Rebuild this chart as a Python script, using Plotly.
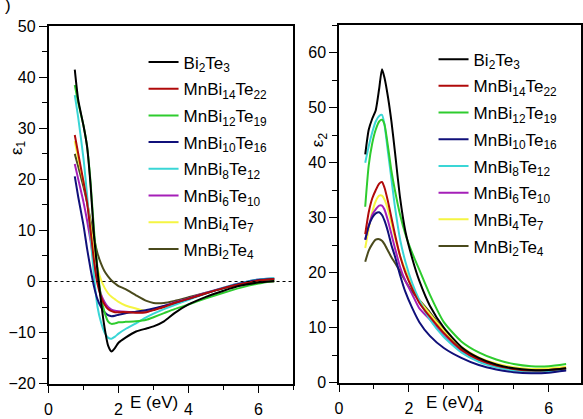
import plotly.graph_objects as go

# ---------------- data ----------------
series_names = ["Bi<sub>2</sub>Te<sub>3</sub>", "MnBi<sub>14</sub>Te<sub>22</sub>",
                "MnBi<sub>12</sub>Te<sub>19</sub>", "MnBi<sub>10</sub>Te<sub>16</sub>",
                "MnBi<sub>8</sub>Te<sub>12</sub>", "MnBi<sub>6</sub>Te<sub>10</sub>",
                "MnBi<sub>4</sub>Te<sub>7</sub>", "MnBi<sub>2</sub>Te<sub>4</sub>"]
series_colors = ["#000000", "#b00a0a", "#2ecc2e", "#10107a",
                 "#3ad6d6", "#a51fb8", "#f5f542", "#4a4a1c"]

energy_eps1 = [0.75, 0.85, 1.0, 1.1, 1.2, 1.3, 1.4, 1.5, 1.6, 1.7, 1.8, 1.9, 2.0,
               2.2, 2.5, 2.8, 3.0, 3.3, 3.6, 4.0, 4.5, 5.0, 5.5, 6.0, 6.45]
eps1_Bi2Te3 = [41.5, 35.5, 30.5, 26.5, 19, 9, 2, -4, -9, -12.5, -13.7, -13, -12,
               -11, -9.8, -9.2, -8.8, -7.8, -6.2, -4.5, -3, -1.8, -0.8, -0.2, 0.1]
eps1_MnBi14Te22 = [28.7, 25, 19.5, 15.5, 10, 4, -0.5, -3, -4.5, -5.4, -5.8, -6, -6,
                   -6, -6.1, -6, -5.6, -5, -4.2, -3.4, -2.3, -1.3, -0.5, 0.2, 0.5]
eps1_MnBi12Te19 = [38.5, 35, 30.5, 26.5, 19.5, 10, 2.5, -3, -6, -7.8, -8.3, -8.2, -8,
                   -7.9, -7.8, -7.5, -7, -6.2, -5.4, -4.5, -3.3, -2.2, -1.2, -0.4, 0.1]
eps1_MnBi10Te16 = [20.6, 16.5, 11, 6.5, 2.5, -1, -3.5, -5, -6, -6.6, -6.8, -6.7, -6.5,
                   -6.2, -5.9, -5.6, -5.3, -4.8, -4.2, -3.4, -2.3, -1.3, -0.4, 0.3, 0.5]
eps1_MnBi8Te12 = [36.5, 32, 24, 17, 9, 1, -5, -8, -10, -11, -11.2, -10.8, -10.2,
                  -9.3, -8.2, -7, -6.3, -5.4, -4.6, -3.6, -2.3, -1.2, -0.3, 0.4, 0.7]
eps1_MnBi6Te10 = [23, 20, 15.5, 12, 8, 3.5, 0, -2.5, -4, -5, -5.5, -5.7, -5.8,
                  -5.9, -6, -6, -5.5, -4.8, -4.1, -3.3, -2.2, -1.2, -0.3, 0.4, 0.6]
eps1_MnBi4Te7 = [27.5, 24, 19.5, 16, 11, 6, 2.5, 0.3, -1.2, -2.3, -3, -3.5, -4,
                 -4.7, -5.3, -5.8, -5.5, -4.9, -4.2, -3.4, -2.3, -1.3, -0.5, 0.2, 0.4]
eps1_MnBi2Te4 = [25, 22.5, 18.5, 15.5, 12, 8.5, 5.5, 3.5, 2, 1, 0.2, -0.4, -0.9,
                 -1.5, -2.7, -3.8, -4.2, -4.2, -3.8, -3.1, -2.2, -1.3, -0.6, -0.1, 0]

energy_eps2 = [0.75, 0.85, 0.95, 1.05, 1.15, 1.23, 1.3, 1.4, 1.5, 1.6, 1.75, 1.9,
               2.1, 2.3, 2.6, 3.0, 3.5, 4.0, 4.5, 5.0, 5.5, 6.0, 6.5]
eps2_Bi2Te3 = [41.5, 46, 48, 49.5, 53.5, 57, 55.5, 52, 47.5, 42, 33.5, 27.5,
               22.5, 18.5, 14, 10, 6.5, 4.5, 3.3, 2.6, 2.3, 2.3, 2.6]
eps2_MnBi14Te22 = [27, 31, 33.5, 35, 36.2, 36.5, 35.5, 33, 30, 27, 23, 20,
                   17, 14.5, 12, 9, 6, 4.2, 3.1, 2.5, 2.2, 2.3, 2.6]
eps2_MnBi12Te19 = [32, 39.5, 43.5, 46, 47.5, 47.8, 47, 43, 38.5, 35, 30.5, 27,
                   23.5, 20.5, 16, 11, 7.5, 5.5, 4.2, 3.4, 3.0, 3.0, 3.4]
eps2_MnBi10Te16 = [26, 28.5, 30, 30.8, 31, 30.5, 29.5, 27.5, 25, 23, 19.5, 16.5,
                   13.5, 11, 8.5, 6.3, 4.5, 3.2, 2.4, 1.9, 1.7, 1.8, 2.2]
eps2_MnBi8Te12 = [40, 43, 45.5, 47.5, 48.5, 48.7, 47, 42, 37, 32, 26, 22,
                  18, 15, 11.5, 8.3, 5.5, 3.8, 2.8, 2.2, 2.0, 2.1, 2.4]
eps2_MnBi6Te10 = [26, 28.5, 30.5, 31.5, 32.2, 32.2, 31.5, 29.5, 27, 24.5, 21, 18.5,
                  16, 13.5, 11.5, 8.5, 5.7, 4.0, 3.0, 2.3, 2.0, 2.0, 2.3]
eps2_MnBi4Te7 = [24.5, 28, 31, 33, 34, 34, 33.3, 31.5, 29, 26.5, 23, 20.5,
                 17.5, 15, 12.5, 9.5, 6.5, 4.6, 3.5, 2.8, 2.5, 2.6, 2.9]
eps2_MnBi2Te4 = [22, 24, 25.2, 26, 26.1, 25.8, 25.2, 24, 22.8, 21.8, 20.2, 18.5,
                 16.5, 15, 12.8, 9.5, 6.3, 4.4, 3.2, 2.5, 2.2, 2.3, 2.6]

eps1_all = [eps1_Bi2Te3, eps1_MnBi14Te22, eps1_MnBi12Te19, eps1_MnBi10Te16,
            eps1_MnBi8Te12, eps1_MnBi6Te10, eps1_MnBi4Te7, eps1_MnBi2Te4]
eps2_all = [eps2_Bi2Te3, eps2_MnBi14Te22, eps2_MnBi12Te19, eps2_MnBi10Te16,
            eps2_MnBi8Te12, eps2_MnBi6Te10, eps2_MnBi4Te7, eps2_MnBi2Te4]

# ---------------- figure ----------------
FONT = "Liberation Sans, Arial, sans-serif"
W, H = 583, 419
fig = go.Figure()

order = list(range(len(series_names)))
for i in reversed(order):
    fig.add_trace(go.Scatter(x=energy_eps1, y=eps1_all[i], mode="lines",
                             line=dict(color=series_colors[i], width=2, shape="spline", smoothing=0.6),
                             name=series_names[i], legend="legend", legendrank=i,
                             legendgroup="a%d" % i,
                             xaxis="x", yaxis="y"))
for i in reversed(order):
    fig.add_trace(go.Scatter(x=energy_eps2, y=eps2_all[i], mode="lines",
                             line=dict(color=series_colors[i], width=2, shape="spline", smoothing=0.6),
                             name=series_names[i], legend="legend2", legendrank=i,
                             legendgroup="b%d" % i,
                             xaxis="x2", yaxis="y2"))


def px_x(p):
    return p / W


def px_y(p):
    return 1 - p / H


axis_common = dict(showline=True, linecolor="black", linewidth=1.5, mirror=True,
                   ticks="outside", ticklen=8, tickwidth=1.2, tickcolor="black",
                   showgrid=False, zeroline=False,
                   tickfont=dict(family=FONT, size=16, color="black"))
minor_x = dict(dtick=1, ticks="outside", ticklen=5, tickwidth=1, tickcolor="black")
minor_y = dict(dtick=5, ticks="outside", ticklen=5, tickwidth=1, tickcolor="black")

legend_common = dict(xanchor="left", yanchor="top", bgcolor="rgba(0,0,0,0)",
                     traceorder="grouped", itemwidth=30, tracegroupgap=1.6,
                     font=dict(family=FONT, size=17, color="black"))

fig.update_layout(
    width=W, height=H,
    margin=dict(l=0, r=0, t=0, b=0),
    paper_bgcolor="white", plot_bgcolor="white",
    font=dict(family=FONT, size=16, color="black"),
    xaxis=dict(domain=[px_x(45), px_x(292.5)], range=[0, 7], dtick=2, tick0=0,
               minor=minor_x, anchor="y", ticklabelstandoff=2, **axis_common),
    yaxis=dict(domain=[px_y(391.5), px_y(19)], range=[-20, 50], dtick=10,
               minor=minor_y, anchor="x", **axis_common),
    xaxis2=dict(domain=[px_x(338.5), 1.0], range=[0, (W - 338.5) / 35.3], dtick=2, tick0=0,
                minor=minor_x, anchor="y2", ticklabelstandoff=2, **axis_common),
    yaxis2=dict(domain=[px_y(390.5), px_y(18)], range=[0, 65], dtick=10,
                minor=minor_y, anchor="x2", **axis_common),
    legend=dict(x=px_x(141), y=px_y(38), **legend_common),
    legend2=dict(x=px_x(434), y=px_y(35), **legend_common),
    showlegend=True,
)

# zero reference line in eps1 panel
fig.add_shape(type="line", xref="x domain", yref="y", x0=0, x1=1, y0=0, y1=0,
              line=dict(color="black", width=1, dash="dot"))

ann_font = dict(family=FONT, size=17, color="black")
fig.add_annotation(text="ε<sub>1</sub>", xref="paper", yref="paper",
                   x=px_x(14), y=px_y(145), xanchor="center", yanchor="middle",
                   textangle=-90, showarrow=False, font=ann_font)
fig.add_annotation(text="ε<sub>2</sub>", xref="paper", yref="paper",
                   x=px_x(319), y=px_y(137), xanchor="center", yanchor="middle",
                   textangle=-90, showarrow=False, font=ann_font)
fig.add_annotation(text="E (eV)", xref="paper", yref="paper",
                   x=px_x(152), y=px_y(411), xanchor="center", yanchor="middle",
                   showarrow=False, font=ann_font)
fig.add_annotation(text="E (eV)", xref="paper", yref="paper",
                   x=px_x(451), y=px_y(411), xanchor="center", yanchor="middle",
                   showarrow=False, font=ann_font)
fig.add_annotation(text=")", xref="paper", yref="paper", x=0, y=1,
                   xanchor="left", yanchor="top", yshift=14, xshift=-1,
                   showarrow=False, font=ann_font)

fig.write_html("out.html")
